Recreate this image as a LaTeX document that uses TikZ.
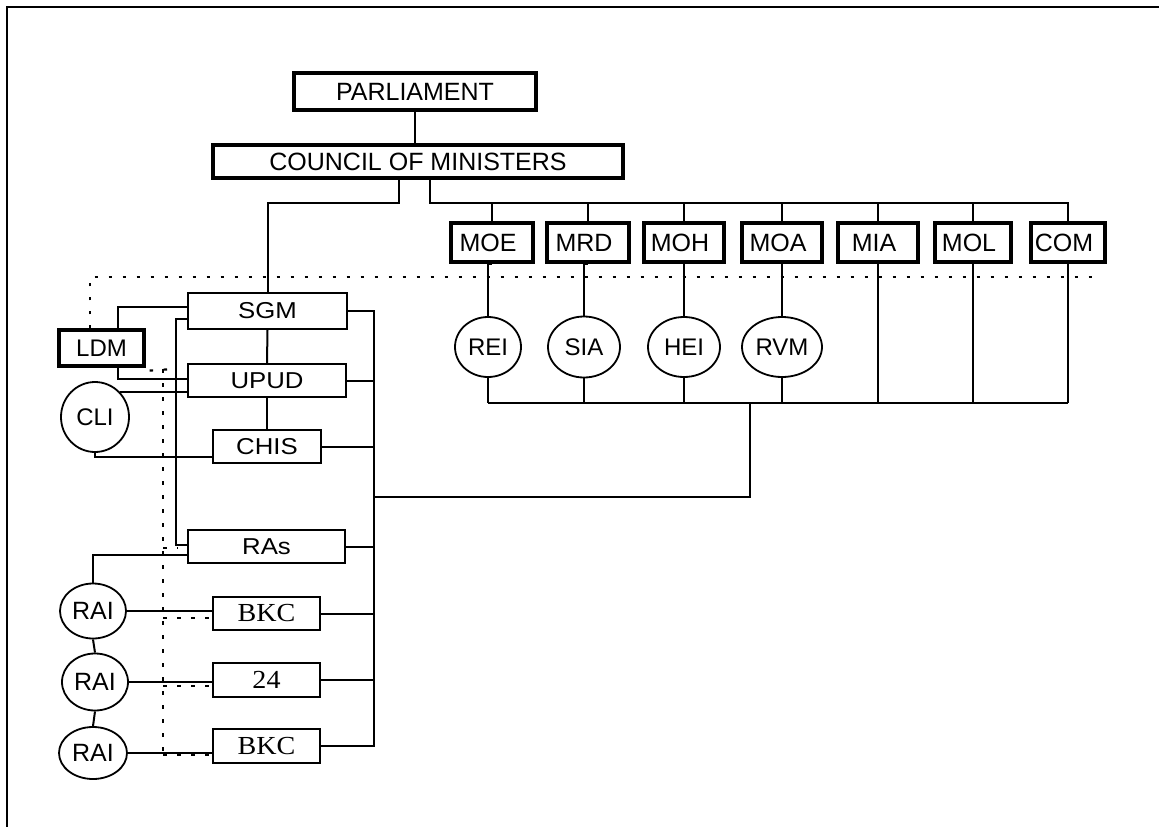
\documentclass[tikz,border=0pt]{standalone}
\usepackage{fontspec}
\setmainfont{Liberation Sans}
\newfontfamily\widesans[FakeStretch=1.12]{Liberation Sans}
\newfontfamily\bkcserif[FakeStretch=1.08]{Liberation Serif}
\usetikzlibrary{shapes.geometric}

\tikzset{
  heavybox/.style={draw, line width=3.2pt, inner sep=0pt, font=\fontsize{25}{25}\selectfont},
  ministry/.style={heavybox, minimum height=39pt, execute at begin node={\hspace*{-8pt}}},
  unitbox/.style={draw, line width=1.8pt, inner sep=0pt, font=\widesans\fontsize{23}{23}\selectfont},
  localbox/.style={draw, line width=1.8pt, inner sep=0pt, font=\bkcserif\fontsize{26}{26}\selectfont},
  oval/.style={ellipse, draw, line width=1.8pt, inner sep=0pt, font=\fontsize{24}{24}\selectfont},
  wire/.style={line width=2pt},
  dotline/.style={line width=2.2pt, dash pattern=on 3.5pt off 10.5pt},
  frameline/.style={line width=2.6pt}
}

\begin{document}
\begin{tikzpicture}[x=1pt,y=-1pt]
\useasboundingbox (0,0) rectangle (1159,827);

% outer frame (top and left edges)
\draw[frameline] (1159,7) -- (7,7) -- (7,827);

% top of the hierarchy
\node[heavybox, minimum width=242pt, minimum height=37pt] (parl) at (415,91.5) {PARLIAMENT};
\node[heavybox, minimum width=410pt, minimum height=33pt] (council) at (418,161.5) {COUNCIL OF MINISTERS};

% ministries
\node[ministry, minimum width=82pt] (moe) at (492,242.5) {MOE};
\node[ministry, minimum width=82pt] (mrd) at (588,242.5) {MRD};
\node[ministry, minimum width=80pt] (moh) at (684,242.5) {MOH};
\node[ministry, minimum width=80pt] (moa) at (782,242.5) {MOA};
\node[ministry, minimum width=80pt] (mia) at (878,242.5) {MIA};
\node[ministry, minimum width=76pt] (mol) at (973,242.5) {MOL};
\node[ministry, minimum width=74pt] (com) at (1068,242.5) {COM};

% institutes under the ministries
\node[oval, minimum width=66pt, minimum height=60pt] (rei) at (488,347) {REI};
\node[oval, minimum width=72pt, minimum height=61pt] (sia) at (584,347) {SIA};
\node[oval, minimum width=72pt, minimum height=60pt] (hei) at (684,347) {HEI};
\node[oval, minimum width=80pt, minimum height=60pt] (rvm) at (782,347) {RVM};

% national units
\node[unitbox, minimum width=159pt, minimum height=36pt] (sgm) at (267.5,311) {SGM};
\node[unitbox, minimum width=158pt, minimum height=33pt] (upud) at (267,380.5) {UPUD};
\node[unitbox, minimum width=108pt, minimum height=33pt] (chis) at (267,446.5) {CHIS};
\node[unitbox, minimum width=157pt, minimum height=33pt] (ras) at (266.5,546.5) {RAs};
\node[heavybox, minimum width=85pt, minimum height=36pt, font=\fontsize{24}{24}\selectfont] (ldm) at (101.5,348) {LDM};
\node[oval, minimum width=68pt, minimum height=70pt] (cli) at (95,417) {CLI};

% local level
\node[localbox, minimum width=107pt, minimum height=33pt] (bkca) at (266.5,613.5) {BKC};
\node[localbox, minimum width=107pt, minimum height=34pt] (loc) at (266.5,680) {24};
\node[localbox, minimum width=107pt, minimum height=34pt] (bkcb) at (266.5,746) {BKC};
\node[oval, minimum width=66pt, minimum height=55pt, font=\fontsize{25}{25}\selectfont] (raia) at (93,611) {RAI};
\node[oval, minimum width=66pt, minimum height=57pt, font=\fontsize{25}{25}\selectfont] (raib) at (95,682) {RAI};
\node[oval, minimum width=68pt, minimum height=52pt, font=\fontsize{25}{25}\selectfont] (raic) at (93,753) {RAI};

% helper coordinates for buses
\coordinate (topbus) at (0,203);
\coordinate (lowbus) at (0,403);
\coordinate (rbus) at (374,0);
\coordinate (linkpt) at (750,403);
\coordinate (linkturn) at (750,497);
\coordinate (dl) at (90,277);
\coordinate (dr) at (1095,277);
\coordinate (dvtop) at (163,369);
\coordinate (dvbot) at (163,755);
\coordinate (da) at (163,618);
\coordinate (db) at (163,686);
\coordinate (dc) at (163,548);

% parliament to council
\draw[wire] (parl.south) -- (parl.south |- council.north);

% council branches
\draw[wire] ([xshift=-19pt]council.south) -- ([xshift=-19pt]council.south |- topbus) -| (sgm.north);
\draw[wire] ([xshift=12pt]council.south) -- ([xshift=12pt]council.south |- topbus) -- (com.north |- topbus) -- (com.north);
\foreach \m in {moe,mrd,moh,moa,mia,mol}
  \draw[wire] (\m.north |- topbus) -- (\m.north);

% ministries to institutes and lower bus
\foreach \m/\i in {moe/rei,mrd/sia,moh/hei,moa/rvm}{
  \draw[wire] (\m.south) -- (\m.south -| \i.north) -- (\i.north);
  \draw[wire] (\i.south) -- (\i.south |- lowbus);
}
\foreach \m in {mia,mol,com}
  \draw[wire] (\m.south) -- (\m.south |- lowbus);
\draw[wire] (rei.south |- lowbus) -- (com.south |- lowbus);
\draw[wire] (linkpt) -- (linkturn) -- (linkturn -| rbus);

% national column
\draw[wire] (sgm.south) -- (upud.north);
\draw[wire] (upud.south) -- (upud.south -| chis.north) -- (chis.north);
\draw[wire] (sgm.east) -- (sgm.east -| rbus) -- (bkcb.east -| rbus) -- (bkcb.east);
\foreach \b in {upud,chis,ras,bkca,loc}
  \draw[wire] (\b.east) -- (\b.east -| rbus);

% links on the left
\draw[wire] ([xshift=16.5pt]ldm.north) |- ([yshift=4pt]sgm.west);
\draw[wire] ([xshift=16.5pt]ldm.south) |- ([yshift=1.5pt]upud.west);
\draw[wire] (cli.north east) -- (cli.north east -| upud.west);
\draw[wire] (cli.south) |- ([yshift=-10.5pt]chis.west);
\draw[wire] ([yshift=-8pt]sgm.west) -- ++(-11,0) |- ([yshift=1.5pt]ras.west);
\draw[wire] ([yshift=-8.5pt]ras.west) -| (raia.north);
\draw[wire] (raia.south) -- (raib.north);
\draw[wire] (raib.south) -- (raic.north);
\draw[wire] (raia.east) -- (raia.east -| bkca.west);
\draw[wire] (raib.east) -- (raib.east -| loc.west);
\draw[wire] (raic.east) -- (raic.east -| bkcb.west);

% dotted advisory lines
\draw[dotline] (ldm.north -| dl) -- (dl) -- (dr) -- ++(0,-5);
\draw[dotline] ([xshift=4pt,yshift=-3pt]ldm.south east) -- ([xshift=-14pt]dvtop -| upud.west);
\draw[dotline] (dvtop) -- (dvbot);
\draw[dotline] (dc) -- ([xshift=-10pt]dc -| ras.west);
\draw[dotline] (da) -- (da -| bkca.west);
\draw[dotline] (db) -- (db -| loc.west);
\draw[dotline] (dvbot) -- (dvbot -| bkcb.west);
\end{tikzpicture}
\end{document}
